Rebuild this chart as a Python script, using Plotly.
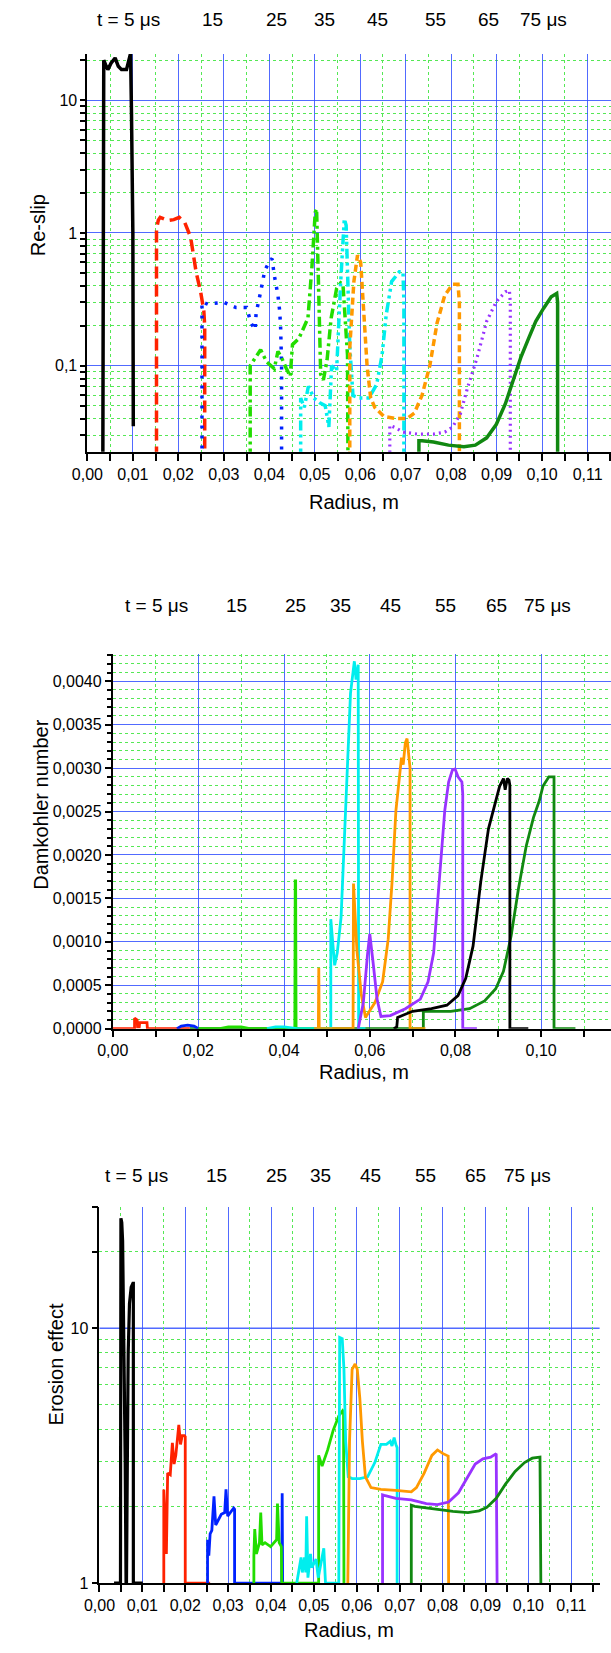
import plotly.graph_objects as go

W, H = 611, 1653

# ---------------- data ----------------
time_labels = ["t = 5 μs", "15", "25", "35", "45", "55", "65", "75 μs"]

# Panel 1: Re-slip (log)
p1_black_x = [0.0034, 0.0035, 0.0036, 0.0040, 0.0045, 0.0052, 0.0061, 0.0068, 0.0075, 0.0086, 0.0095, 0.0097, 0.0099, 0.0100, 0.0101]
p1_black_y = [0.02, 0.2, 20, 18.5, 17, 19, 20.8, 18, 17, 17, 22.5, 8, 2.2, 1.0, 0.035]
p1_red_x = [0.0152, 0.0152, 0.0156, 0.0160, 0.0177, 0.0190, 0.0202, 0.0214, 0.0227, 0.0239, 0.0249, 0.0256, 0.0258, 0.0258]
p1_red_y = [0.02, 1.07, 1.25, 1.31, 1.24, 1.26, 1.31, 1.2, 0.93, 0.51, 0.36, 0.26, 0.2, 0.02]
p1_blue_x = [0.0252, 0.0252, 0.0265, 0.0277, 0.0300, 0.0327, 0.0350, 0.0360, 0.0369, 0.0371, 0.0381, 0.0390, 0.0401, 0.0406, 0.0411, 0.0419, 0.0423, 0.0425, 0.0427, 0.0427]
p1_blue_y = [0.02, 0.303, 0.29, 0.295, 0.30, 0.274, 0.274, 0.209, 0.186, 0.248, 0.36, 0.52, 0.62, 0.64, 0.48, 0.34, 0.255, 0.19, 0.101, 0.02]
p1_green_x = [0.0358, 0.0358, 0.0362, 0.0373, 0.0381, 0.0394, 0.0411, 0.0419, 0.0427, 0.0437, 0.0446, 0.0451, 0.0465, 0.0485, 0.0494, 0.0501, 0.0504, 0.0509, 0.0513, 0.0519, 0.0527, 0.0536, 0.0548, 0.0557, 0.0562, 0.0572, 0.0573]
p1_green_y = [0.02, 0.1, 0.105, 0.121, 0.132, 0.107, 0.095, 0.128, 0.115, 0.096, 0.083, 0.144, 0.16, 0.228, 0.57, 1.43, 1.52, 0.32, 0.086, 0.078, 0.11, 0.228, 0.38, 0.42, 0.41, 0.12, 0.02]
p1_cyan_x = [0.0469, 0.0469, 0.0477, 0.0486, 0.0498, 0.0511, 0.0523, 0.0531, 0.0537, 0.0548, 0.0557, 0.0565, 0.0569, 0.0573, 0.0577, 0.0584, 0.0598, 0.0619, 0.0636, 0.0648, 0.0657, 0.0669, 0.0686, 0.0694, 0.0696, 0.0696]
p1_cyan_y = [0.02, 0.057, 0.0485, 0.070, 0.057, 0.0525, 0.05, 0.0345, 0.1, 0.091, 0.43, 1.28, 1.14, 0.32, 0.14, 0.0595, 0.057, 0.057, 0.072, 0.12, 0.24, 0.43, 0.51, 0.51, 0.3, 0.02]
p1_orange_x = [0.0577, 0.0577, 0.0586, 0.0594, 0.0601, 0.0609, 0.0615, 0.0623, 0.0632, 0.0652, 0.0678, 0.0703, 0.0719, 0.0736, 0.0753, 0.0769, 0.0786, 0.0803, 0.0815, 0.0818, 0.0818]
p1_orange_y = [0.02, 0.137, 0.43, 0.68, 0.6, 0.24, 0.1, 0.057, 0.0485, 0.0415, 0.04, 0.04, 0.044, 0.06, 0.1, 0.21, 0.34, 0.41, 0.41, 0.3, 0.02]
p1_purple_x = [0.0665, 0.0665, 0.0678, 0.0694, 0.0727, 0.0761, 0.0786, 0.0803, 0.0820, 0.0836, 0.0857, 0.0878, 0.0899, 0.0919, 0.0928, 0.0930, 0.0930]
p1_purple_y = [0.02, 0.0355, 0.034, 0.0316, 0.0305, 0.0305, 0.0316, 0.0345, 0.0432, 0.0683, 0.115, 0.216, 0.303, 0.36, 0.37, 0.3, 0.02]
p1_dkgreen_x = [0.0729, 0.0729, 0.0736, 0.0761, 0.0794, 0.0828, 0.0853, 0.0878, 0.0899, 0.0919, 0.0936, 0.0953, 0.0970, 0.0986, 0.1003, 0.1020, 0.1032, 0.1034, 0.1034]
p1_dkgreen_y = [0.02, 0.0272, 0.0272, 0.0266, 0.0252, 0.0245, 0.0252, 0.0286, 0.036, 0.0515, 0.077, 0.115, 0.16, 0.216, 0.27, 0.33, 0.35, 0.3, 0.02]

# Panel 2: Damkohler number (linear)
p2_dkgreen_x = [0.0180, 0.0725, 0.0725, 0.0744, 0.0789, 0.0833, 0.0868, 0.0894, 0.0912, 0.0930, 0.0947, 0.0965, 0.0982, 0.0996, 0.1004, 0.1018, 0.1028, 0.1030, 0.1030, 0.1080]
p2_dkgreen_y = [0, 0, 0.0002, 0.0002, 0.0002, 0.00023, 0.00032, 0.00046, 0.00066, 0.00107, 0.00161, 0.0021, 0.00243, 0.00263, 0.00279, 0.0029, 0.0029, 0.0029, 0, 0]
p2_red_x = [0.0, 0.0051, 0.0051, 0.0057, 0.0058, 0.0062, 0.0063, 0.0080, 0.0081, 0.0180]
p2_red_y = [0, 0, 0.00012, 0.0001, 0.00002, 0.00002, 0.00007, 0.00007, 0, 0]
p2_blue_x = [0.0150, 0.0160, 0.0175, 0.0190, 0.0200]
p2_blue_y = [0, 0.00003, 0.00004, 0.00003, 0]
p2_green_x = [0.0200, 0.0250, 0.0270, 0.0300, 0.0320, 0.0425, 0.0426, 0.0427, 0.0428, 0.0500]
p2_green_y = [0, 0, 0.00002, 0.00002, 0, 0, 0.0017, 0.0017, 0, 0]
p2_cyan_x = [0.0360, 0.0380, 0.0400, 0.0430, 0.0509, 0.0509, 0.0518, 0.0524, 0.0533, 0.0540, 0.0549, 0.0555, 0.0564, 0.0568, 0.0573, 0.0574, 0.0590]
p2_cyan_y = [0, 0.00002, 0.00002, 0, 0, 0.00126, 0.00073, 0.00087, 0.00128, 0.0021, 0.00333, 0.00386, 0.00423, 0.00402, 0.00419, 0, 0]
p2_orange_x = [0.0470, 0.0480, 0.0481, 0.0482, 0.0490, 0.0561, 0.0562, 0.0570, 0.0580, 0.0590, 0.0612, 0.0630, 0.0643, 0.0652, 0.0661, 0.0670, 0.0674, 0.0678, 0.0683, 0.0687, 0.0692, 0.0694, 0.0694, 0.0730]
p2_orange_y = [0, 0, 0.0007, 0, 0, 0, 0.00167, 0.0009, 0.0004, 0.00013, 0.0003, 0.00054, 0.00103, 0.00169, 0.00251, 0.00292, 0.00312, 0.00304, 0.00329, 0.00334, 0.00312, 0.003, 0, 0]
p2_purple_x = [0.0573, 0.0585, 0.0595, 0.0600, 0.0608, 0.0617, 0.0626, 0.0648, 0.0683, 0.0718, 0.0736, 0.0749, 0.0762, 0.0775, 0.0784, 0.0793, 0.0799, 0.0806, 0.0815, 0.0817, 0.0817, 0.0850]
p2_purple_y = [0, 0.0003, 0.00087, 0.00109, 0.00075, 0.00034, 0.00014, 0.00015, 0.00023, 0.00034, 0.00054, 0.00087, 0.00169, 0.00251, 0.00284, 0.00298, 0.00299, 0.0029, 0.00284, 0.0027, 0, 0]
p2_black_x = [0.0656, 0.0663, 0.0665, 0.0700, 0.0744, 0.0780, 0.0806, 0.0824, 0.0841, 0.0859, 0.0877, 0.0893, 0.0903, 0.0912, 0.0916, 0.0921, 0.0925, 0.0927, 0.0927, 0.0970]
p2_black_y = [0, 0.00002, 0.00013, 0.0002, 0.00023, 0.00027, 0.00038, 0.00058, 0.00095, 0.00169, 0.0023, 0.00259, 0.00279, 0.00288, 0.00275, 0.00288, 0.00286, 0.0028, 0, 0]

# Panel 3: Erosion effect (log)
p3_black_x = [0.0034, 0.0049, 0.0050, 0.0052, 0.0054, 0.0056, 0.0058, 0.0060, 0.0062, 0.0063, 0.0065, 0.0067, 0.0070, 0.0074, 0.0078, 0.0079, 0.0079, 0.0101]
p3_black_y = [1, 1, 27, 26, 22, 12, 6, 3, 1, 1, 3, 8, 12.5, 14.5, 15, 15, 1, 1]
p3_red_x = [0.0150, 0.0150, 0.0156, 0.0159, 0.0165, 0.0170, 0.0174, 0.0178, 0.0185, 0.0189, 0.0193, 0.0198, 0.0200, 0.0200, 0.0258]
p3_red_y = [1, 2.33, 1.3, 2.7, 2.66, 3.55, 2.93, 3.17, 4.18, 3.5, 3.79, 3.79, 3.75, 1, 1]
p3_blue_x = [0.0252, 0.0252, 0.0255, 0.0258, 0.0262, 0.0267, 0.0271, 0.0277, 0.0284, 0.0292, 0.0295, 0.0299, 0.0307, 0.0313, 0.0315, 0.0315, 0.0425, 0.0426, 0.0427]
p3_blue_y = [1, 1.48, 1.28, 1.56, 1.61, 2.19, 1.69, 1.77, 1.86, 1.89, 2.33, 1.83, 1.92, 1.97, 1.95, 1, 1, 2.25, 1]
p3_green_x = [0.0360, 0.0360, 0.0362, 0.0366, 0.0373, 0.0376, 0.0379, 0.0386, 0.0399, 0.0408, 0.0413, 0.0415, 0.0419, 0.0424, 0.0425, 0.0511, 0.0511, 0.0519, 0.0532, 0.0545, 0.0558, 0.0567, 0.0569, 0.0570]
p3_green_y = [1, 1.28, 1.63, 1.3, 1.44, 1.89, 1.41, 1.44, 1.39, 1.44, 1.48, 2.05, 1.44, 1.39, 1, 1, 3.17, 2.88, 3.33, 3.98, 4.53, 4.75, 4.7, 1]
p3_cyan_x = [0.0460, 0.0470, 0.0473, 0.0478, 0.0481, 0.0483, 0.0486, 0.0492, 0.0495, 0.0505, 0.0510, 0.0523, 0.0527, 0.0558, 0.0560, 0.0566, 0.0570, 0.0574, 0.0580, 0.0589, 0.0607, 0.0625, 0.0642, 0.0656, 0.0669, 0.0678, 0.0682, 0.0687, 0.0691, 0.0694, 0.0694]
p3_cyan_y = [1, 1.26, 1.1, 1.26, 1.1, 1.83, 1.05, 1.3, 1.15, 1.24, 1.05, 1.37, 1, 1, 9.2, 9.1, 6.9, 3.6, 2.61, 2.57, 2.57, 2.61, 2.97, 3.5, 3.5, 3.6, 3.45, 3.72, 3.5, 3.4, 1]
p3_orange_x = [0.0579, 0.0583, 0.0589, 0.0596, 0.0601, 0.0607, 0.0613, 0.0620, 0.0633, 0.0656, 0.0691, 0.0727, 0.0739, 0.0757, 0.0775, 0.0788, 0.0801, 0.0813, 0.0814]
p3_orange_y = [1, 3.6, 6.9, 7.24, 6.9, 5.32, 3.6, 2.61, 2.37, 2.33, 2.31, 2.28, 2.37, 2.7, 3.17, 3.33, 3.22, 3.15, 1]
p3_purple_x = [0.0660, 0.0660, 0.0664, 0.0691, 0.0727, 0.0762, 0.0788, 0.0814, 0.0837, 0.0859, 0.0876, 0.0894, 0.0912, 0.0925, 0.0927]
p3_purple_y = [1, 2.22, 2.21, 2.15, 2.12, 2.05, 2.03, 2.08, 2.26, 2.61, 2.93, 3.07, 3.12, 3.22, 1]
p3_dkgreen_x = [0.0727, 0.0727, 0.0735, 0.0779, 0.0824, 0.0859, 0.0885, 0.0903, 0.0925, 0.0947, 0.0969, 0.0991, 0.1009, 0.1027, 0.1029]
p3_dkgreen_y = [1, 2.02, 2.0, 1.95, 1.91, 1.89, 1.92, 1.98, 2.15, 2.45, 2.74, 2.97, 3.09, 3.12, 1]

# ---------------- styles ----------------
C = dict(black="#000000", red="#ff2200", blue="#0022ff", green="#22dd00",
         cyan="#00eeee", orange="#ff9900", purple="#9933ff", dkgreen="#118811")
BLUE_GRID = "rgba(50,80,255,0.85)"
GREEN_GRID = "#55e855"
FONT = "Liberation Sans, Arial, sans-serif"

fig = go.Figure()

def add(x, y, color, width, dash, xa, ya):
    fig.add_trace(go.Scatter(x=x, y=y, mode="lines", xaxis=xa, yaxis=ya,
                             line=dict(color=color, width=width, dash=dash),
                             hoverinfo="skip", showlegend=False))

# panel 1
add(p1_black_x, p1_black_y, C["black"], 3.5, "solid", "x", "y")
add(p1_red_x, p1_red_y, C["red"], 3.5, "12px,6px", "x", "y")
add(p1_blue_x, p1_blue_y, C["blue"], 3.5, "3px,7px", "x", "y")
add(p1_green_x, p1_green_y, C["green"], 3.5, "10px,4px,3px,4px", "x", "y")
add(p1_cyan_x, p1_cyan_y, C["cyan"], 3.5, "10px,4px,3px,4px,3px,4px", "x", "y")
add(p1_orange_x, p1_orange_y, C["orange"], 3.5, "7px,4px", "x", "y")
add(p1_purple_x, p1_purple_y, C["purple"], 3.2, "2px,4px", "x", "y")
add(p1_dkgreen_x, p1_dkgreen_y, C["dkgreen"], 3.5, "solid", "x", "y")

# panel 2
add(p2_dkgreen_x, p2_dkgreen_y, C["dkgreen"], 2.8, "solid", "x2", "y2")
add(p2_red_x, p2_red_y, C["red"], 2.8, "solid", "x2", "y2")
add(p2_blue_x, p2_blue_y, C["blue"], 2.8, "solid", "x2", "y2")
add(p2_green_x, p2_green_y, C["green"], 2.8, "solid", "x2", "y2")
add(p2_cyan_x, p2_cyan_y, C["cyan"], 2.8, "solid", "x2", "y2")
add(p2_orange_x, p2_orange_y, C["orange"], 2.8, "solid", "x2", "y2")
add(p2_purple_x, p2_purple_y, C["purple"], 2.8, "solid", "x2", "y2")
add(p2_black_x, p2_black_y, C["black"], 2.8, "solid", "x2", "y2")

# panel 3
add(p3_black_x, p3_black_y, C["black"], 3.2, "solid", "x3", "y3")
add(p3_red_x, p3_red_y, C["red"], 2.8, "solid", "x3", "y3")
add(p3_blue_x, p3_blue_y, C["blue"], 2.8, "solid", "x3", "y3")
add(p3_green_x, p3_green_y, C["green"], 2.8, "solid", "x3", "y3")
add(p3_cyan_x, p3_cyan_y, C["cyan"], 2.8, "solid", "x3", "y3")
add(p3_orange_x, p3_orange_y, C["orange"], 2.8, "solid", "x3", "y3")
add(p3_purple_x, p3_purple_y, C["purple"], 2.8, "solid", "x3", "y3")
add(p3_dkgreen_x, p3_dkgreen_y, C["dkgreen"], 2.8, "solid", "x3", "y3")

def px(v):
    return v / W

def py(v):
    return 1 - v / H

tickfont = dict(family=FONT, size=16, color="black")
base_axis = dict(showline=True, linecolor="black", linewidth=1.8, ticks="outside",
                 tickwidth=1.5, tickcolor="black", showgrid=True, gridcolor=BLUE_GRID,
                 gridwidth=1.3, zeroline=False, tickfont=tickfont, layer="below traces")

def minor(**kw):
    d = dict(ticks="outside", tickwidth=1.5, tickcolor="black", showgrid=True,
             gridcolor=GREEN_GRID, griddash="dot", gridwidth=1)
    d.update(kw)
    return d

log_minor_p1 = [0.03, 0.04, 0.05, 0.06, 0.07, 0.08, 0.09, 0.2, 0.3, 0.4, 0.5, 0.6, 0.7, 0.8, 0.9,
                2, 3, 4, 5, 6, 7, 8, 9, 20]
log_minor_p3 = [2, 3, 4, 5, 6, 7, 8, 9, 20]

fig.update_layout(
    width=W, height=H, margin=dict(l=0, r=0, t=0, b=0),
    paper_bgcolor="white", plot_bgcolor="white", showlegend=False,
    separators=", ",
    xaxis=dict(base_axis, domain=[px(73.3), 1.0], range=[0, 0.11514], anchor="y",
               tick0=0, dtick=0.01, tickformat=".2f", ticklen=7,
               minor=minor(tick0=0, dtick=0.005, ticklen=7)),
    yaxis=dict(base_axis, type="log", domain=[py(454.3), py(54.3)], range=[-1.649, 1.348],
               anchor="x", tickmode="array", tickvals=[0.1, 1, 10], ticktext=["0,1", "1", "10"],
               ticklen=5, minor=minor(tickmode="array", tickvals=log_minor_p1, ticklen=5)),
    xaxis2=dict(base_axis, domain=[px(99.3), 1.0], range=[0, 0.1163], anchor="y2",
                tick0=0, dtick=0.02, tickformat=".2f", ticklen=6,
                minor=minor(tick0=0, dtick=0.01, ticklen=6)),
    yaxis2=dict(base_axis, domain=[py(1034.3), py(657.3)], range=[0, 0.004317], anchor="x2",
                tick0=0, dtick=0.0005, tickformat=".4f", ticklen=6,
                minor=minor(tick0=0, dtick=0.0001, ticklen=4)),
    xaxis3=dict(base_axis, domain=[px(85.7), px(599.3)], range=[0, 0.1166], anchor="y3",
                tick0=0, dtick=0.01, tickformat=".2f", ticklen=7,
                minor=minor(tick0=0, dtick=0.005, ticklen=7)),
    yaxis3=dict(base_axis, type="log", domain=[py(1591.7), py(1213.3)], range=[0, 1.4771],
                anchor="x3", tickmode="array", tickvals=[1, 10, 20, 30],
                ticktext=["1", "10", "", ""], ticklen=6, showgrid=False,
                minor=minor(tickmode="array", tickvals=log_minor_p3, ticks="")),
)

# blue major gridline at 10 for panel 3 (major grid disabled there to keep 20 green)
fig.add_shape(type="line", xref="x3 domain", yref="y3", x0=0, x1=1, y0=10, y1=10,
              line=dict(color=BLUE_GRID, width=1.3), layer="below")

# time labels above each panel (pixel centres)
time_pos = {
    19.3: [115.7, 201.9, 267, 316.4, 371, 430.6, 485.2, 541.7],
    608.6: [144, 226, 287, 333.6, 385, 441.5, 493, 545.6],
    1181.6: [124, 206, 267, 313, 364, 421, 472, 525],
}
for yy, xs in time_pos.items():
    for lab, xx in zip(time_labels, xs):
        fig.add_annotation(x=px(xx), y=py(yy), xref="paper", yref="paper", text=lab,
                           showarrow=False, xanchor="center", yanchor="middle",
                           font=dict(family=FONT, size=19, color="black"))

axis_titles = [
    ("Radius, m", 347, 505, 0), ("Re-slip", 23.4, 226.7, -90),
    ("Radius, m", 357.7, 1078, 0), ("Damkohler number", 25.3, 809.5, -90),
    ("Radius, m", 342, 1639, 0), ("Erosion effect", 41, 1372, -90),
]
for txt, xx, yy, ang in axis_titles:
    fig.add_annotation(x=px(xx), y=py(yy), xref="paper", yref="paper", text=txt,
                       showarrow=False, xanchor="center", yanchor="middle", textangle=ang,
                       font=dict(family=FONT, size=20, color="black"))

fig.write_html("out.html")
